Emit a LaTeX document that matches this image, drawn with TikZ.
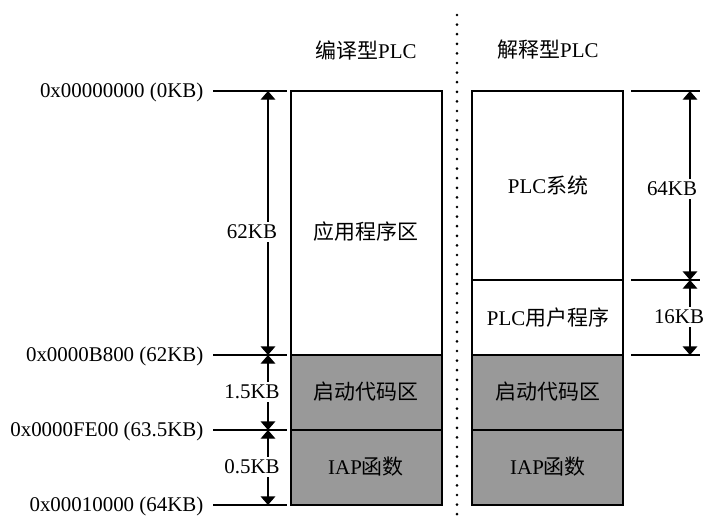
\documentclass[tikz,border=0pt]{standalone}
\usepackage{fontspec}
\setmainfont{Liberation Serif}
\newfontfamily\cjk{Noto Sans CJK SC}
\usetikzlibrary{arrows.meta, positioning}
\definecolor{ink}{HTML}{000000}
\definecolor{rom}{HTML}{999999}
\tikzset{el/.style={line cap=round, line join=round},
  txt/.style={font=\fontsize{15.7}{18}\selectfont, inner sep=1pt},
  dim/.style={ink, line width=1pt, {Triangle[length=6.5pt,width=11pt]}-{Triangle[length=6.5pt,width=11pt]}},
  kb/.style={txt, fill=white, inner sep=2pt}}

\begin{document}
\begin{tikzpicture}[x=0.75pt,y=-0.75pt]
  \useasboundingbox (0,0) rectangle (703,522);
  % two memory maps
  \foreach \x in {291,472}{
     \fill[rom] (\x,355) rectangle ++(151,150);
     \draw[ink,line width=1pt] (\x,91) rectangle ++(151,414) (\x,355)--++(151,0) (\x,430)--++(151,0);}
  \draw[ink,line width=1pt] (472,280)--++(151,0);
  \node[txt] (app) at (366,232) {\cjk 应用程序区};
  \node[txt] (sys) at (548,185) {PLC\cjk 系统};
  \node[txt] (usr) at (548,318) {PLC\cjk 用户程序};
  \foreach \x/\n in {366/l,548/r}{
     \node[txt] (boot\n) at (\x,392) {\cjk 启动代码区};
     \node[txt] (iap\n) at (\x,467) {IAP\cjk 函数};}
  \node[txt] (tl) at (366,50) {{\cjk 编译型}PLC};
  \node[txt] (tr) at (548,50) {{\cjk 解释型}PLC};
  \draw[ink,line width=2.2pt,dash pattern=on 0pt off 7.2pt,line cap=round] (457,15)--(457,518);
  % addresses
  \foreach \n/\y/\adr in {a/91/0x00000000 (0KB),b/355/0x0000B800 (62KB),c/430/0x0000FE00 (63.5KB),d/505/0x00010000 (64KB)}{
     \coordinate (l\n) at (268,\y);
     \draw[ink,line width=1pt] (213,\y)--(287,\y);
     \node[txt,anchor=east] (adr\n) at (205,\y+1) {\adr};}
  \foreach \n/\y in {a/91,b/280,c/355}{
     \coordinate (r\n) at (690,\y);
     \draw[ink,line width=1pt] (631,\y)--(700,\y);}
  % sizes
  \draw[dim] (la)--(lb); \draw[dim] (lb)--(lc); \draw[dim] (lc)--(ld);
  \draw[dim] (ra)--(rb); \draw[dim] (rb)--(rc);
  \node[kb] (k62) at (252,232) {62KB};
  \node[kb] (k15) at (252,392) {1.5KB};
  \node[kb] (k05) at (252,467) {0.5KB};
  \node[kb] (k64) at (672,189) {64KB};
  \node[kb] (k16) at (679,317) {16KB};
\end{tikzpicture}
\end{document}
